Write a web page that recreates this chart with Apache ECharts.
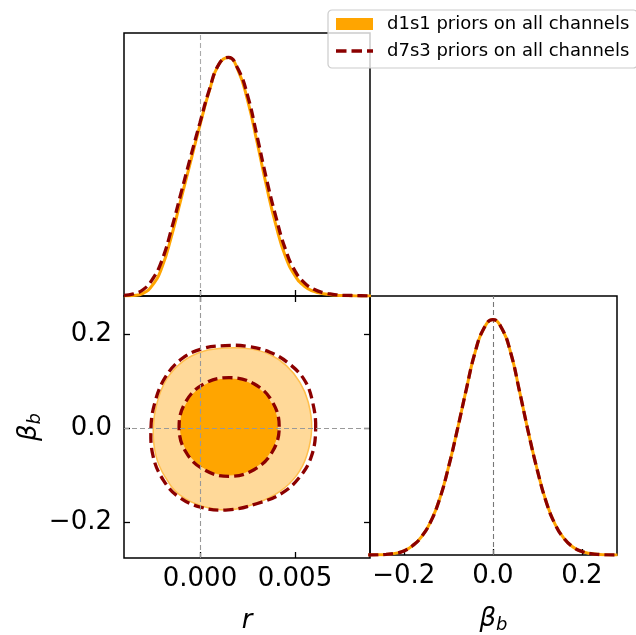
<!DOCTYPE html>
<html>
<head>
<meta charset="utf-8">
<script src="https://cdn.jsdelivr.net/npm/echarts@6/dist/echarts.min.js"></script>
<style>
  html, body { margin: 0; padding: 0; background: #fff; }
  #chart { width: 636px; height: 635px; }
</style>
</head>
<body>
<div id="chart"></div>
<script>
// series names
const D1 = "d1s1 priors on all channels";
const D7 = "d7s3 priors on all channels";

// 1D marginal of r (normalised to peak = 1)
const rGrid = [-0.004, -0.0035, -0.003, -0.0025, -0.002, -0.0015, -0.001, -0.0005, 0, 0.0005,
  0.001, 0.0015, 0.002, 0.0025, 0.003, 0.0035, 0.004, 0.0045, 0.005, 0.0055,
  0.006, 0.0065, 0.007, 0.0075, 0.008, 0.0085, 0.009];
const rD1s1 = [0, 0.002, 0.011, 0.045, 0.12, 0.25, 0.405, 0.56, 0.715, 0.86,
  0.97, 0.998, 0.945, 0.82, 0.645, 0.46, 0.295, 0.165, 0.085, 0.04,
  0.019, 0.009, 0.004, 0.002, 0.001, 0, 0];
const rD7s3 = [0.003, 0.009, 0.026, 0.07, 0.15, 0.28, 0.43, 0.58, 0.725, 0.865,
  0.97, 0.998, 0.95, 0.84, 0.67, 0.49, 0.33, 0.195, 0.105, 0.055,
  0.028, 0.014, 0.007, 0.003, 0.002, 0.001, 0];

// 1D marginal of beta_b
const betaGrid = [-0.28, -0.26, -0.24, -0.22, -0.2, -0.18, -0.16, -0.14, -0.12, -0.1,
  -0.08, -0.06, -0.04, -0.02, 0, 0.02, 0.04, 0.06, 0.08, 0.1,
  0.12, 0.14, 0.16, 0.18, 0.2, 0.22, 0.24, 0.26, 0.28];
const betaD1s1 = [0, 0.0006, 0.0025, 0.007, 0.017, 0.04, 0.078, 0.14, 0.235, 0.37,
  0.53, 0.70, 0.86, 0.963, 1.0, 0.963, 0.86, 0.695, 0.52, 0.36,
  0.225, 0.13, 0.07, 0.034, 0.015, 0.006, 0.002, 0.0005, 0];
const betaD7s3 = [0, 0.0006, 0.0025, 0.007, 0.017, 0.04, 0.078, 0.14, 0.235, 0.37,
  0.53, 0.70, 0.86, 0.963, 1.0, 0.963, 0.86, 0.695, 0.52, 0.36,
  0.225, 0.13, 0.07, 0.034, 0.015, 0.006, 0.002, 0.0005, 0];

// 2D contours (r, beta_b): 95% and 68%
const d1s1Outer = [[0.00588, 0], [0.00570, 0.055], [0.00526, 0.097], [0.00456, 0.132], [0.00368, 0.156],
  [0.00263, 0.168], [0.00140, 0.170], [0.00018, 0.163], [-0.00088, 0.142], [-0.00175, 0.104],
  [-0.00225, 0.055], [-0.00246, 0], [-0.00232, -0.058], [-0.00184, -0.103], [-0.00105, -0.142],
  [0.00018, -0.166], [0.00158, -0.173], [0.00298, -0.159], [0.00421, -0.134], [0.00509, -0.100],
  [0.00562, -0.058]];
const d1s1Inner = [[0.00407, 0.003], [0.00373, 0.054], [0.00280, 0.091], [0.00153, 0.104], [0.00025, 0.091],
  [-0.00068, 0.054], [-0.00102, 0.003], [-0.00068, -0.048], [0.00025, -0.085], [0.00153, -0.099],
  [0.00280, -0.085], [0.00373, -0.048]];
const d7s3Outer = [[0.00609, 0], [0.00593, 0.055], [0.00553, 0.100], [0.00474, 0.135], [0.00368, 0.161],
  [0.00246, 0.1735], [0.00132, 0.175], [0.00009, 0.168], [-0.00096, 0.147], [-0.00184, 0.107],
  [-0.00237, 0.055], [-0.00258, 0], [-0.00246, -0.061], [-0.00193, -0.110], [-0.00114, -0.145],
  [0.00009, -0.168], [0.00149, -0.173], [0.00298, -0.160], [0.00430, -0.138], [0.00526, -0.103],
  [0.00588, -0.058]];
const d7s3Inner = [[0.00417, 0.003], [0.00381, 0.056], [0.00284, 0.094], [0.00153, 0.107], [0.00022, 0.094],
  [-0.00075, 0.056], [-0.00110, 0.003], [-0.00075, -0.050], [0.00022, -0.088], [0.00153, -0.102],
  [0.00284, -0.088], [0.00381, -0.050]];

// axis ranges and ticks
const rRange = [-0.004, 0.00895];
const betaRange2D = [-0.275, 0.28];
const betaRange1D = [-0.276, 0.279];
const rTicks = [0, 0.005];
const betaTicks = [-0.2, 0, 0.2];

const FONT = "DejaVu Sans";
const ORANGE = "#FFA500";
const DARKRED = "#8B0000";
const DASH = [10, 5];
// dashed-line legend glyph (corner dots only fix the box size)
const DASH_ICON = "path://M0,0h0.01v0.01h-0.01z M0,4.2h10.5v3.6h-10.5z M15.5,4.2h10.5v3.6h-10.5z M31,4.2h6v3.6h-6z M36.99,11.99h0.01v0.01h-0.01z";

const zip = (xs, ys) => xs.map((x, i) => [x, ys[i]]);
const fmtBeta = v => (v < 0 ? "\u2212" : "") + Math.abs(v).toFixed(1);

function valueAxis(grid, range, opts) {
  return Object.assign({
    type: "value", gridIndex: grid, min: range[0], max: range[1],
    axisLine: { show: false, onZero: false },
    splitLine: { show: false },
    axisTick: { show: false },
    axisLabel: { show: false }
  }, opts);
}
function ticksIn(values) {
  return { show: true, inside: true, length: 6, customValues: values, lineStyle: { color: "#000", width: 1.3 } };
}
function labels(values, fmt, margin) {
  return { show: true, customValues: values, formatter: fmt, margin: margin,
    fontFamily: FONT, fontSize: 26, color: "#000" };
}
const betaName = {
  name: "{b|β}{s|b}",
  nameLocation: "middle",
  nameTextStyle: {
    rich: {
      b: { fontFamily: FONT, fontStyle: "italic", fontSize: 26, color: "#000" },
      s: { fontFamily: FONT, fontStyle: "italic", fontSize: 18, color: "#000", verticalAlign: "bottom", padding: [12, 0, 0, 0] }
    }
  }
};

const refLine = (color, data, z) => ({
  silent: true, symbol: "none", z: z,
  label: { show: false },
  lineStyle: { color: color, width: 1.1, type: [5, 3] },
  data: data
});

function contourRender(polys, styles) {
  return function (params, api) {
    const i = params.dataIndex;
    return {
      type: "polygon",
      shape: { points: polys[i].map(p => api.coord(p)), smooth: 0.4 },
      style: styles[i]
    };
  };
}

const chart = echarts.init(document.getElementById("chart"));
chart.setOption({
  animation: false,
  backgroundColor: "#fff",
  legend: {
    orient: "vertical", left: 328, top: 10,
    padding: [5, 8, 8, 8], itemGap: 9,
    itemWidth: 37, itemHeight: 12,
    backgroundColor: "rgba(255,255,255,0.8)",
    borderColor: "#cccccc", borderWidth: 1.2, borderRadius: 4,
    textStyle: { fontFamily: FONT, fontSize: 18, color: "#000", padding: [0, 0, 0, 9] },
    data: [
      { name: D1, icon: "rect", itemStyle: { color: ORANGE } },
      { name: D7, icon: DASH_ICON, itemStyle: { color: DARKRED } }
    ]
  },
  grid: [
    { left: 124, top: 33, width: 246, height: 263, show: true, borderColor: "#000", borderWidth: 1.5, backgroundColor: "transparent" },
    { left: 124, top: 296, width: 246, height: 264, show: true, borderColor: "#000", borderWidth: 1.5, backgroundColor: "transparent" },
    { left: 370, top: 296, width: 247, height: 264, show: true, borderColor: "#000", borderWidth: 1.5, backgroundColor: "transparent" }
  ],
  xAxis: [
    valueAxis(0, rRange, { axisTick: ticksIn(rTicks) }),
    valueAxis(1, rRange, {
      position: "bottom", axisTick: ticksIn(rTicks), axisLabel: labels(rTicks, v => v.toFixed(3), 8),
      name: "r", nameLocation: "middle", nameGap: 50,
      nameTextStyle: { fontFamily: FONT, fontStyle: "italic", fontSize: 26, color: "#000" }
    }),
    valueAxis(1, rRange, { position: "top", axisTick: ticksIn(rTicks) }),
    valueAxis(2, betaRange1D, Object.assign({
      position: "bottom", axisTick: ticksIn(betaTicks), axisLabel: labels(betaTicks, fmtBeta, 8), nameGap: 49
    }, betaName))
  ],
  yAxis: [
    valueAxis(0, [0, 1.1]),
    valueAxis(1, betaRange2D, Object.assign({
      position: "left", axisTick: ticksIn(betaTicks), axisLabel: labels(betaTicks, fmtBeta, 12), nameGap: 80, nameRotate: 90
    }, betaName)),
    valueAxis(1, betaRange2D, { position: "right", axisTick: ticksIn(betaTicks) }),
    valueAxis(2, [0, 1.1])
  ],
  series: [
    {
      name: D1, type: "custom", xAxisIndex: 1, yAxisIndex: 1, data: [[0, 0], [0, 0]],
      renderItem: contourRender([d1s1Outer, d1s1Inner], [
        { fill: "#FFD999", stroke: "#FFBF4D", lineWidth: 1.5 },
        { fill: ORANGE, stroke: ORANGE, lineWidth: 1 }
      ]),
      markLine: refLine("#999999", [{ xAxis: 0 }, { yAxis: 0 }], 5)
    },
    {
      name: D7, type: "custom", xAxisIndex: 1, yAxisIndex: 1, data: [[0, 0], [0, 0]], z: 3,
      renderItem: contourRender([d7s3Outer, d7s3Inner], [
        { fill: null, stroke: DARKRED, lineWidth: 3.3, lineDash: DASH },
        { fill: null, stroke: DARKRED, lineWidth: 3.3, lineDash: DASH }
      ])
    },
    {
      name: D1, type: "line", xAxisIndex: 0, yAxisIndex: 0, data: zip(rGrid, rD1s1),
      smooth: 0.5, symbol: "none", lineStyle: { color: ORANGE, width: 3 },
      markLine: refLine("#aaaaaa", [{ xAxis: 0 }], 1)
    },
    {
      name: D7, type: "line", xAxisIndex: 0, yAxisIndex: 0, data: zip(rGrid, rD7s3),
      smooth: 0.5, symbol: "none", lineStyle: { color: DARKRED, width: 3.3, type: DASH }, z: 3
    },
    {
      name: D1, type: "line", xAxisIndex: 3, yAxisIndex: 3, data: zip(betaGrid, betaD1s1),
      smooth: 0.5, symbol: "none", lineStyle: { color: ORANGE, width: 3 },
      markLine: refLine("#777777", [{ xAxis: 0 }], 1)
    },
    {
      name: D7, type: "line", xAxisIndex: 3, yAxisIndex: 3, data: zip(betaGrid, betaD7s3),
      smooth: 0.5, symbol: "none", lineStyle: { color: DARKRED, width: 3.3, type: DASH }, z: 3
    }
  ]
});
</script>
</body>
</html>
